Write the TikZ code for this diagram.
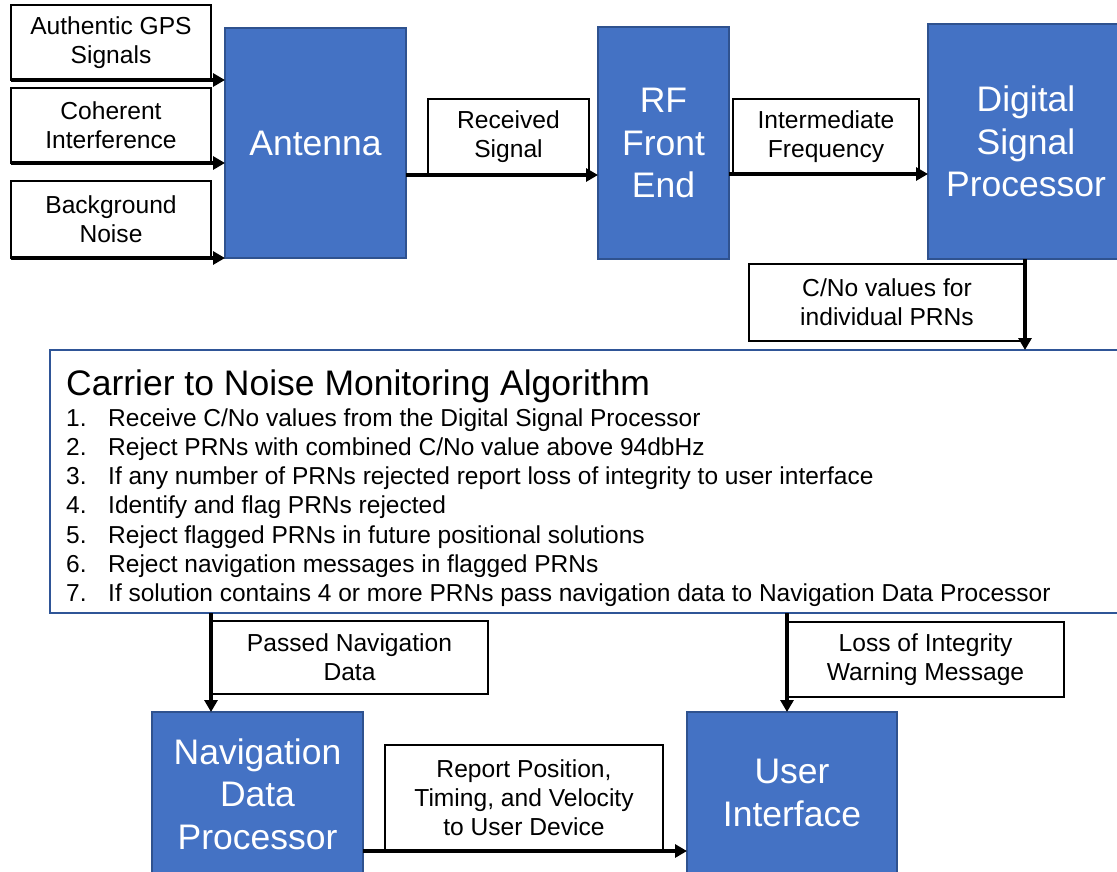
\documentclass[tikz,border=0pt]{standalone}
\usepackage{fontspec}
\setmainfont{Liberation Sans}
\usetikzlibrary{arrows.meta}
\definecolor{blockfill}{HTML}{4472C4}
\definecolor{blockline}{HTML}{2F528F}
\definecolor{algoline}{HTML}{2F5597}
\tikzset{
  block/.style={draw=blockline, line width=1.5pt, fill=blockfill, text=white,
    font=\fontsize{35.5}{42.5}\selectfont, align=center, inner sep=0pt, outer sep=0pt},
  tag/.style={draw=black, line width=1.2pt, fill=white,
    font=\fontsize{24.6}{29}\selectfont, align=center, inner sep=0pt, outer sep=0pt},
  algobox/.style={draw=algoline, line width=2.2pt, fill=white, inner sep=0pt, outer sep=0pt},
  steptext/.style={anchor=base west, inner sep=0pt, font=\fontsize{24.5}{29}\selectfont},
  flow/.style={line width=3.5pt, -{Triangle[length=12pt,width=13pt]}},
}
\begin{document}
\begin{tikzpicture}[x=1pt,y=-1pt]
\useasboundingbox (0,0) rectangle (1117,871);
\fill[white] (0,0) rectangle (1117,871);
\clip (0,0) rectangle (1117,871);

% signal sources
\node[tag, minimum width=200pt, minimum height=75pt] (gps) at (111,42.5) {Authentic GPS\\Signals};
\node[tag, minimum width=200pt, minimum height=75pt] (coh) at (111,125.5) {Coherent\\Interference};
\node[tag, minimum width=200pt, minimum height=77pt] (noise) at (111,219.5) {Background\\Noise};

% receiver chain
\node[block, minimum width=181pt, minimum height=230pt] (ant) at (315.5,143) {Antenna};
\node[tag, minimum width=161pt, minimum height=76pt] (recv) at (508.5,137) {Received\\Signal};
\node[block, minimum width=131pt, minimum height=232pt] (rf) at (663.5,143) {RF\\Front\\End};
\node[tag, minimum width=186pt, minimum height=75pt] (ifreq) at (826,136.5) {Intermediate\\Frequency};
\node[block, minimum width=196pt, minimum height=235pt] (dsp) at (1026,141.5) {Digital\\Signal\\Processor};
\node[tag, minimum width=276pt, minimum height=77pt] (cno) at (887,302.5) {C/No values for\\individual PRNs};

% monitoring algorithm
\node[algobox, minimum width=1075pt, minimum height=263pt] (algo) at (587.5,481.5) {};
\node[anchor=base west, inner sep=0pt, font=\fontsize{35.5}{40}\selectfont] (algotitle) at (66,395) {Carrier to Noise Monitoring Algorithm};
\foreach \n/\t in {
  1/{Receive C/No values from the Digital Signal Processor},
  2/{Reject PRNs with combined C/No value above 94dbHz},
  3/{If any number of PRNs rejected report loss of integrity to user interface},
  4/{Identify and flag PRNs rejected},
  5/{Reject flagged PRNs in future positional solutions},
  6/{Reject navigation messages in flagged PRNs},
  7/{If solution contains 4 or more PRNs pass navigation data to Navigation Data Processor}}
  \node[steptext] (item\n) at (66,{426+(\n-1)*29.3}) {\makebox[42pt][l]{\n.}\t};

% outputs
\node[tag, minimum width=277pt, minimum height=73pt] (passed) at (349.5,657.5) {Passed Navigation\\Data};
\node[tag, minimum width=277pt, minimum height=75pt] (loss) at (925.5,659.5) {Loss of Integrity\\Warning Message};
\node[block, minimum width=211pt, minimum height=164pt] (nav) at (257.5,794) {Navigation\\Data\\Processor};
\node[tag, minimum width=278pt, minimum height=106pt] (report) at (524,798) {Report Position,\\Timing, and Velocity\\to User Device};
\node[block, minimum width=210pt, minimum height=162pt] (ui) at (792,793) {User\\Interface};

% connectors
\draw[flow] (gps.south west) -- (gps.south west -| ant.west);
\draw[flow] (coh.south west) -- (coh.south west -| ant.west);
\draw[flow] (noise.south west) -- (noise.south west -| ant.west);
\draw[flow] (ant.east |- recv.south) -- (rf.west |- recv.south);
\draw[flow] (rf.east |- ifreq.south) -- (dsp.west |- ifreq.south);
\draw[flow] (cno.north east |- dsp.south) -- (cno.east |- algo.north);
\draw[flow] (passed.north west |- algo.south) -- (passed.west |- nav.north);
\draw[flow] (loss.north west |- algo.south) -- (loss.west |- ui.north);
\draw[flow] (nav.east |- report.south) -- (ui.west |- report.south);
\end{tikzpicture}
\end{document}
